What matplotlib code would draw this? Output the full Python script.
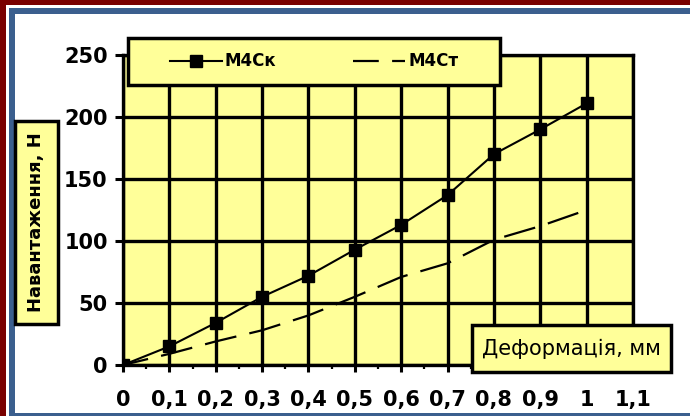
import matplotlib
matplotlib.use("Agg")
import matplotlib.pyplot as plt
from matplotlib.patches import Rectangle

# data
deform = [0, 0.1, 0.2, 0.3, 0.4, 0.5, 0.6, 0.7, 0.8, 0.9, 1.0]
m4ck = [0, 15, 34, 55, 72, 93, 113, 137, 170, 190, 211]
m4ct = [0, 9, 19, 28, 40, 55, 71, 82, 101, 112, 125]
series_names = ["М4Ск", "М4Ст"]
x_ticks = [0, 0.1, 0.2, 0.3, 0.4, 0.5, 0.6, 0.7, 0.8, 0.9, 1.0, 1.1]
x_ticklabels = ["0", "0,1", "0,2", "0,3", "0,4", "0,5", "0,6", "0,7", "0,8", "0,9", "1", "1,1"]
y_ticks = [0, 50, 100, 150, 200, 250]
x_title = "Деформація, мм"
y_title = "Навантаження, Н"

W, H = 690, 416
yellow = "#ffff99"

def box(x0, y0, x1, y1):
    # pixel box (top-left origin) -> figure fraction
    return (x0 / W, 1 - y1 / H, (x1 - x0) / W, (y1 - y0) / H)

fig = plt.figure(figsize=(6.9, 4.16), dpi=100, facecolor="white")

# frame strips around the picture
for (x0, y0, x1, y1), c in [((0, 0, 6, 416), "#7a0000"), ((0, 0, 690, 5), "#7a0000"),
                            ((9, 8, 15, 416), "#3b5f8e"), ((9, 8, 690, 14), "#3b5f8e"),
                            ((9, 413, 690, 416), "#3b5f8e")]:
    l, b, w, h = box(x0, y0, x1, y1)
    fig.patches.append(Rectangle((l, b), w, h, transform=fig.transFigure,
                                 facecolor=c, edgecolor="none", zorder=0.5))

ax = fig.add_axes(box(123, 55, 633, 365))
ax.set_facecolor(yellow)

l1, = ax.plot(deform, m4ck, color="black", lw=1.5, marker="s", markersize=9,
              label=series_names[0], zorder=3)
l2, = ax.plot(deform, m4ct, color="black", lw=1.6,
              linestyle=(2.9, (14.5, 6.0)), label=series_names[1], zorder=3)

ax.set_xlim(0, 1.1)
ax.set_ylim(0, 250)
ax.set_xticks(x_ticks)
ax.set_xticklabels(x_ticklabels)
ax.set_xticks([0.05 + 0.1 * i for i in range(11)], minor=True)
ax.set_yticks(y_ticks)
ax.grid(True, which="major", color="black", lw=2.4)
ax.set_axisbelow(True)
for s in ax.spines.values():
    s.set_linewidth(2.4)
    s.set_color("black")

ax.tick_params(axis="x", which="major", direction="out", length=5, width=2.2,
               pad=13, labelsize=15)
ax.tick_params(axis="x", which="minor", direction="out", length=3, width=1.6)
ax.tick_params(axis="y", direction="out", length=6, width=2.2, pad=5, labelsize=15)
for t in ax.get_xticklabels() + ax.get_yticklabels():
    t.set_fontweight("bold")

# legend box
l, b, w, h = box(128, 38, 500, 85)
fig.patches.append(Rectangle((l, b), w, h, transform=fig.transFigure,
                             facecolor=yellow, edgecolor="black", lw=2.5, zorder=2))
fig.legend(handles=[l1, l2], loc="center left", bbox_to_anchor=(170 / W, 1 - 61.5 / H),
           ncol=2, frameon=False, borderpad=0, borderaxespad=0, handlelength=3.1,
           handletextpad=0.2, columnspacing=4.6, prop={"size": 12, "weight": "bold"})

# axis title boxes
l, b, w, h = box(472, 325, 671, 372)
fig.patches.append(Rectangle((l, b), w, h, transform=fig.transFigure,
                             facecolor=yellow, edgecolor="black", lw=2.5, zorder=2))
fig.text(571.5 / W, 1 - 348.5 / H, x_title, ha="center", va="center",
         fontsize=15, zorder=3)

l, b, w, h = box(15, 121, 58, 324)
fig.patches.append(Rectangle((l, b), w, h, transform=fig.transFigure,
                             facecolor=yellow, edgecolor="black", lw=2.5, zorder=2))
fig.text(36.5 / W, 1 - 222.5 / H, y_title, ha="center", va="center", rotation=90,
         fontsize=13, fontweight="bold", zorder=3)

fig.savefig("out.png", dpi=100)
